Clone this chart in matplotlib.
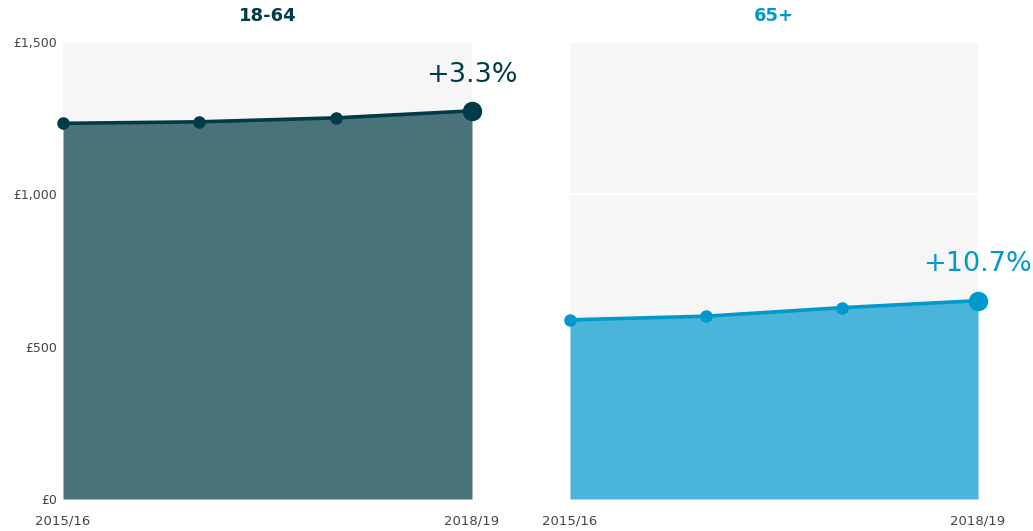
import matplotlib
matplotlib.use("Agg")
import matplotlib.pyplot as plt

plt.rcParams['font.family'] = ['DejaVu Sans']

years = ["2015/16", "2016/17", "2017/18", "2018/19"]
vals_1864 = [1233, 1238, 1251, 1274]
vals_65 = [588, 600, 628, 651]
titles = ["18-64", "65+"]
changes = ["+3.3%", "+10.7%"]
yticks = [0, 500, 1000, 1500]
ytick_labels = ["£0", "£500", "£1,000", "£1,500"]

line_colors = ["#003b47", "#0099cc"]
fill_colors = ["#4a7279", "#4ab4db"]

fig = plt.figure(figsize=(10.33, 5.31), dpi=100)
positions = [[63/1033, 1-499/531, 409/1033, 457/531],
             [570/1033, 1-499/531, 408/1033, 457/531]]

for i, vals in enumerate([vals_1864, vals_65]):
    ax = fig.add_axes(positions[i])
    x = list(range(len(years)))
    ax.set_facecolor("#f6f6f6")
    ax.set_xlim(0, len(years)-1)
    ax.set_ylim(0, 1500)
    ax.set_yticks(yticks)
    ax.yaxis.grid(True, color="white", linewidth=1.5)
    ax.set_axisbelow(True)
    ax.fill_between(x, vals, 0, color=fill_colors[i], zorder=2, linewidth=0)
    ax.plot(x, vals, color=line_colors[i], linewidth=2.6, zorder=3, solid_capstyle="round")
    ax.plot(x[:-1], vals[:-1], 'o', color=line_colors[i], markersize=8, zorder=4, clip_on=False)
    ax.plot(x[-1:], vals[-1:], 'o', color=line_colors[i], markersize=13, zorder=4, clip_on=False)
    for s in ax.spines.values():
        s.set_visible(False)
    ax.set_xticks([0, len(years)-1])
    ax.set_xticklabels([years[0], years[-1]], fontsize=9.5, color="#444444")
    ax.tick_params(axis="x", length=0, pad=11)
    ax.tick_params(axis="y", length=0, pad=4)
    if i == 0:
        ax.set_yticklabels(ytick_labels, fontsize=9, color="#444444")
    else:
        ax.set_yticklabels([])
    ax.set_title(titles[i], fontsize=13, fontweight="bold", color=line_colors[i], pad=15)
    ax.annotate(changes[i], xy=(x[-1], vals[-1]), xytext=(0, 21), textcoords="offset points",
                ha="center", va="baseline", fontsize=19.5, color=line_colors[i],
                annotation_clip=False)

fig.savefig("out.png", dpi=100)
